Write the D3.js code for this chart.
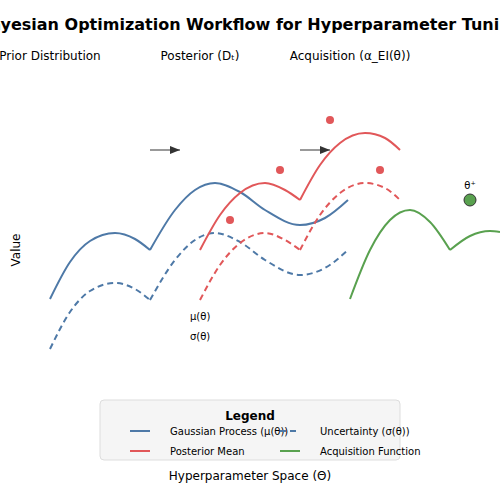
<!DOCTYPE html>
<html lang="en">
<head>
<meta charset="UTF-8">
<script src="https://d3js.org/d3.v7.min.js"></script>
<style>
  body { margin: 0; font-family: "DejaVu Sans", sans-serif; }
</style>
</head>
<body>
<svg id="chart" width="500" height="500"></svg>
<script>
// curve segments, x in hyperparameter units, y in value units
const gpMean = [
  [[1,2.02],[1.4,2.76],[1.8,3.18],[2.3,3.34],[2.7,3.22],[3,3.0]],
  [[3,3],[3.5,3.8],[3.9,4.2],[4.3,4.34],[4.8,4.16],[5.3,3.8],[6,3.5],[6.5,3.64],[6.96,4]]
];
const gpUnc = [
  [[1,1.02],[1.4,1.76],[1.8,2.18],[2.3,2.34],[2.7,2.22],[3,2.0]],
  [[3,2],[3.5,2.8],[3.9,3.2],[4.3,3.34],[4.8,3.16],[5.3,2.8],[6,2.5],[6.5,2.64],[6.96,3]]
];
const postMean = [
  [[4,3],[4.4,3.7],[4.8,4.14],[5.3,4.34],[5.7,4.2],[6,4]],
  [[6,4],[6.4,4.7],[6.8,5.14],[7.3,5.34],[7.7,5.24],[8,5]]
];
const postUnc = [
  [[4,2],[4.4,2.7],[4.8,3.14],[5.3,3.34],[5.7,3.2],[6,3]],
  [[6,3],[6.4,3.7],[6.8,4.14],[7.3,4.34],[7.7,4.24],[8,4]]
];
const acq = [
  [[7,2.02],[7.4,3],[7.8,3.6],[8.2,3.8],[8.6,3.56],[9,3]],
  [[9,3],[9.4,3.28],[9.8,3.38],[10,3.36]]
];
const observations = [[4.6,3.6],[5.6,4.6],[6.6,5.6],[7.6,4.6]];
const bestPoint = [9.4,4];
const arrows = [[[3,5],[3.6,5]],[[6,5],[6.6,5]]];
const stageLabels = [["Prior Distribution",1],["Posterior (Dₜ)",4],["Acquisition (α_EI(θ))",7]];

const C = { blue: "#4e79a7", red: "#e15759", green: "#59a14f" };
const svg = d3.select("#chart");
const x = d3.scaleLinear().domain([0, 10]).range([0, 500]);
const y = d3.scaleLinear().domain([0, 8]).range([400, 0]);
const line = d3.line().x(d => x(d[0])).y(d => y(d[1])).curve(d3.curveMonotoneX);

svg.append("defs").append("marker")
  .attr("id", "arr").attr("viewBox", "0 0 10 10").attr("refX", 10).attr("refY", 5)
  .attr("markerWidth", 10).attr("markerHeight", 10).attr("markerUnits", "userSpaceOnUse")
  .attr("orient", "auto")
  .append("path").attr("d", "M0,1L10,5L0,9Z").attr("fill", "#333");

svg.append("text").attr("x", 250).attr("y", 30).attr("text-anchor", "middle")
  .attr("font-size", 16).attr("font-weight", "bold").text("Bayesian Optimization Workflow for Hyperparameter Tuning");

svg.selectAll(".stage").data(stageLabels).join("text")
  .attr("x", d => x(d[1])).attr("y", 60).attr("text-anchor", "middle")
  .attr("font-size", 12).text(d => d[0]);

function draw(segs, color, dash) {
  svg.append("g").selectAll("path").data(segs).join("path")
    .attr("d", line).attr("fill", "none").attr("stroke", color)
    .attr("stroke-width", 2).attr("stroke-dasharray", dash);
}
draw(gpMean, C.blue, null);
draw(gpUnc, C.blue, "6,4");
draw(postMean, C.red, null);
draw(postUnc, C.red, "6,4");
draw(acq, C.green, null);

svg.selectAll(".obs").data(observations).join("circle")
  .attr("cx", d => x(d[0])).attr("cy", d => y(d[1])).attr("r", 4).attr("fill", C.red);

svg.append("circle").attr("cx", x(bestPoint[0])).attr("cy", y(bestPoint[1])).attr("r", 6)
  .attr("fill", C.green).attr("stroke", "#333").attr("stroke-width", 1);
svg.append("text").attr("x", x(bestPoint[0])).attr("y", y(bestPoint[1]) - 11)
  .attr("text-anchor", "middle").attr("font-size", 10).text("θ⁺");

svg.selectAll(".arrow").data(arrows).join("line")
  .attr("x1", d => x(d[0][0])).attr("y1", d => y(d[0][1]))
  .attr("x2", d => x(d[1][0])).attr("y2", d => y(d[1][1]))
  .attr("stroke", "#777").attr("stroke-width", 1.5).attr("marker-end", "url(#arr)");

svg.append("text").attr("x", 190).attr("y", 320).attr("font-size", 10).text("μ(θ)");
svg.append("text").attr("x", 190).attr("y", 340).attr("font-size", 10).text("σ(θ)");

svg.append("text").attr("transform", "translate(20,250) rotate(-90)")
  .attr("text-anchor", "middle").attr("font-size", 12).text("Value");
svg.append("text").attr("x", 250).attr("y", 480).attr("text-anchor", "middle")
  .attr("font-size", 12).text("Hyperparameter Space (Θ)");

// legend
const lg = svg.append("g");
lg.append("rect").attr("x", 100).attr("y", 400).attr("width", 300).attr("height", 60)
  .attr("rx", 4).attr("fill", "#f5f5f5").attr("stroke", "#ddd");
lg.append("text").attr("x", 250).attr("y", 420).attr("text-anchor", "middle")
  .attr("font-size", 12).attr("font-weight", "bold").text("Legend");
const items = [
  ["Gaussian Process (μ(θ))", C.blue, null, 130, 431],
  ["Uncertainty (σ(θ))", C.blue, "6,4", 280, 431],
  ["Posterior Mean", C.red, null, 130, 451],
  ["Acquisition Function", C.green, null, 280, 451]
];
items.forEach(([t, c, dash, lx, ly]) => {
  lg.append("line").attr("x1", lx).attr("x2", lx + 20).attr("y1", ly).attr("y2", ly)
    .attr("stroke", c).attr("stroke-width", 2).attr("stroke-dasharray", dash);
  lg.append("text").attr("x", lx + 40).attr("y", ly + 4).attr("font-size", 10).text(t);
});
</script>
</body>
</html>
